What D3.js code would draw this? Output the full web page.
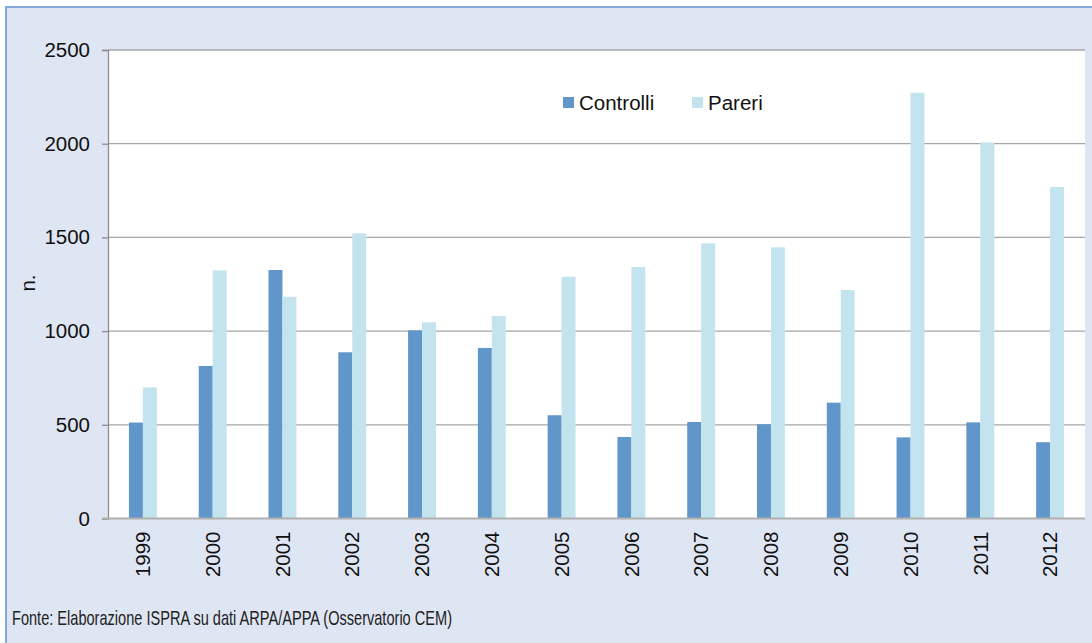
<!DOCTYPE html>
<html>
<head>
<meta charset="utf-8">
<script src="https://cdn.jsdelivr.net/npm/d3@7"></script>
<style>
  html, body { margin: 0; padding: 0; background: #fff; }
  svg { display: block; font-family: "Liberation Sans", Arial, sans-serif; }
</style>
</head>
<body>
<svg id="chart" width="1092" height="643"></svg>
<script>
// ── Data ────────────────────────────────────────────────────────────────────
const years     = ['1999','2000','2001','2002','2003','2004','2005','2006','2007','2008','2009','2010','2011','2012'];
const series    = ['Controlli', 'Pareri'];
const controlli = [512, 814, 1326, 887, 1004, 910, 551, 435, 515, 503, 618, 433, 513, 407];
const pareri    = [700, 1324, 1183, 1522, 1047, 1080, 1290, 1342, 1468, 1447, 1219, 2272, 2007, 1769];
const yTicks    = [0, 500, 1000, 1500, 2000, 2500];
const colors    = { Controlli: '#6096c9', Pareri: '#c3e4ee' };

const rows = years.map((y, i) => ({ year: y, Controlli: controlli[i], Pareri: pareri[i] }));

const svg = d3.select('#chart');
const FS = 20.5;

// ── Frame ───────────────────────────────────────────────────────────────────
svg.append('rect')
  .attr('x', 6).attr('y', 7).attr('width', 1100).attr('height', 650)
  .attr('fill', '#dfe6f3').attr('stroke', '#86a9dc').attr('stroke-width', 2);

const m = { left: 108, right: 1085, top: 50, bottom: 518.5 };

svg.append('rect')
  .attr('x', m.left).attr('y', m.top)
  .attr('width', m.right - m.left).attr('height', m.bottom - m.top)
  .attr('fill', '#fff');

// ── Scales ──────────────────────────────────────────────────────────────────
const x0 = d3.scaleBand().domain(years).range([m.left, m.right])
  .paddingInner(0.6).paddingOuter(0.3);
const x1 = d3.scaleBand().domain(series).range([0, x0.bandwidth()]);
const y  = d3.scaleLinear().domain([0, 2500]).range([m.bottom, m.top]);

// gridlines
svg.append('g')
  .selectAll('line').data(yTicks.filter(t => t > 0)).join('line')
  .attr('x1', m.left).attr('x2', m.right)
  .attr('y1', d => y(d)).attr('y2', d => y(d))
  .attr('stroke', '#a6a6a6').attr('stroke-width', 1.3);

// ── Bars ────────────────────────────────────────────────────────────────────
svg.append('g')
  .selectAll('g').data(rows).join('g')
  .attr('transform', d => `translate(${x0(d.year)},0)`)
  .selectAll('rect')
  .data(d => series.map(s => ({ key: s, value: d[s] })))
  .join('rect')
  .attr('x', d => x1(d.key))
  .attr('y', d => y(d.value))
  .attr('width', x1.bandwidth())
  .attr('height', d => m.bottom - y(d.value))
  .attr('fill', d => colors[d.key]);

// ── Axes ────────────────────────────────────────────────────────────────────
const yAxis = svg.append('g')
  .attr('transform', `translate(${m.left},0)`)
  .call(d3.axisLeft(y).tickValues(yTicks).tickFormat(d3.format('d')).tickSize(6).tickPadding(12));
yAxis.select('.domain').attr('stroke', '#8c8c8c').attr('stroke-width', 1.3);
yAxis.selectAll('.tick line').attr('stroke', '#8c8c8c').attr('stroke-width', 1.3);
yAxis.selectAll('.tick text')
  .attr('font-size', FS).attr('fill', '#111')
  .attr('font-family', '"Liberation Sans", Arial, sans-serif');

const xAxis = svg.append('g')
  .attr('transform', `translate(0,${m.bottom})`)
  .call(d3.axisBottom(x0).tickSize(0).tickSizeOuter(0));
xAxis.select('.domain').attr('stroke', '#b0b0b0').attr('stroke-width', 2)
  .attr('d', `M${m.left - 6},0H${m.right}`);
xAxis.selectAll('.tick text')
  .attr('font-size', FS).attr('fill', '#111')
  .attr('font-family', '"Liberation Sans", Arial, sans-serif')
  .attr('text-anchor', 'end')
  .attr('dy', '0.35em')
  .attr('transform', 'translate(0,13) rotate(-90)')
  .attr('x', 0).attr('y', 0);

// axis title
svg.append('text')
  .attr('transform', 'translate(35,283) rotate(-90)')
  .attr('text-anchor', 'middle')
  .attr('font-size', FS).attr('fill', '#111')
  .text('n.');

// ── Legend ──────────────────────────────────────────────────────────────────
const legendX = [563, 692];
const legend = svg.append('g')
  .selectAll('g').data(series).join('g')
  .attr('transform', (d, i) => `translate(${legendX[i]},97)`);
legend.append('rect')
  .attr('width', 11).attr('height', 11)
  .attr('fill', d => colors[d]);
legend.append('text')
  .attr('x', 16).attr('y', 13)
  .attr('font-size', FS).attr('fill', '#111')
  .text(d => d);

// ── Source note ─────────────────────────────────────────────────────────────
svg.append('text')
  .attr('x', 12).attr('y', 625)
  .attr('font-size', 21).attr('fill', '#222')
  .attr('font-family', '"Liberation Sans Narrow", "Liberation Sans", Arial, sans-serif')
  .attr('textLength', 440).attr('lengthAdjust', 'spacingAndGlyphs')
  .text('Fonte: Elaborazione ISPRA su dati ARPA/APPA (Osservatorio CEM)');
</script>
</body>
</html>
